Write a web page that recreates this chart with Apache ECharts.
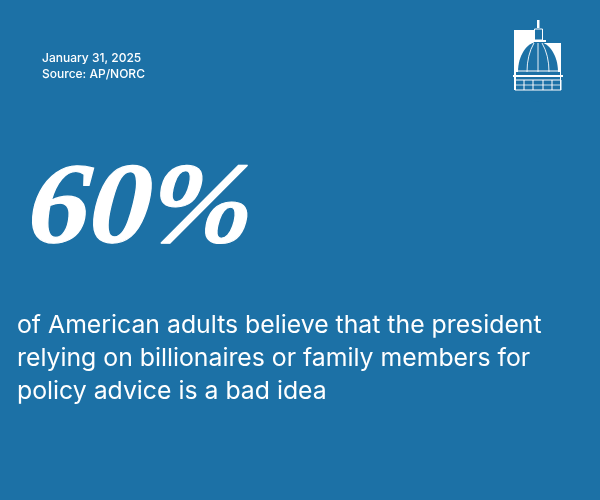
<!DOCTYPE html>
<html>
<head>
    <meta charset="utf-8">
    <style>
        html, body { width: 100%; height: 100%; margin: 0; }
        #chart-panel { width: 600px; height: 500px; }
    </style>
    <script src="https://cdnjs.cloudflare.com/ajax/libs/echarts/6.0.0/echarts.min.js"></script>
</head>
<body>
<div id="chart-panel"></div>
<script type="text/javascript">
  var metaLines = ['January 31, 2025', 'Source: AP/NORC']
  var headline = '60%'
  var bodyLines = [
    'of American adults believe that the president',
    'relying on billionaires or family members for',
    'policy advice is a bad idea'
  ]

  var bg = '#1c71a6'
  var white = '#ffffff'

  function line(x1, y1, x2, y2, w) {
    return { type: 'line', shape: { x1: x1, y1: y1, x2: x2, y2: y2 }, style: { stroke: white, lineWidth: w || 1 } }
  }
  function rib(x1, y1, cx, cy, x2, y2) {
    return { type: 'bezierCurve', shape: { x1: x1, y1: y1, cpx1: cx, cpy1: cy, x2: x2, y2: y2 },
      style: { stroke: white, lineWidth: 0.9, fill: null } }
  }

  // capitol dome logo
  var logo = [
    { type: 'polygon', shape: { points: [[514, 30], [534, 30], [534, 43], [561, 43], [561, 90], [514, 90]] }, style: { fill: white } },
    { type: 'ellipse', shape: { cx: 538, cy: 72, rx: 20, ry: 30 }, style: { fill: bg } },
    { type: 'rect', shape: { x: 516, y: 72, width: 44, height: 18 }, style: { fill: bg } },
    { type: 'rect', shape: { x: 534.5, y: 29, width: 8, height: 11 }, style: { fill: bg, stroke: white, lineWidth: 1 } },
    { type: 'rect', shape: { x: 537, y: 20, width: 2.5, height: 8 }, style: { fill: white } },
    { type: 'rect', shape: { x: 531, y: 40, width: 15, height: 2 }, style: { fill: white } },
    rib(527, 72, 527, 55, 534, 43),
    rib(549, 72, 549, 55, 542, 43),
    line(538, 43, 538, 72, 0.9),
    line(518, 71, 558, 71, 1),
    { type: 'rect', shape: { x: 513, y: 75, width: 50, height: 2 }, style: { fill: white } },
    line(515, 80, 561, 80, 1),
    line(515, 90, 561, 90, 1),
    line(515, 80, 515, 90, 1),
    line(561, 80, 561, 90, 1),
    line(524, 80, 524, 90, 1), line(533, 80, 533, 90, 1),
    line(543, 80, 543, 90, 1), line(552, 80, 552, 90, 1),
    line(515, 85, 561, 85, 0.8)
  ]

  var texts = []
  metaLines.forEach(function (t, i) {
    texts.push({ type: 'text', style: { x: 42, y: 58 + i * 16, text: t, fill: white,
      font: '500 12px Inter', verticalAlign: 'middle' } })
  })
  // big number: squashed a little and skewed to get nearer the original italic
  texts.push({ type: 'text', x: 29, y: 212, scaleX: 1.02, scaleY: 0.96, skewX: -0.08,
    style: { x: 0, y: 0, text: headline, fill: white, stroke: white, lineWidth: 1.2,
      font: 'italic bold 120px "Liberation Serif"', verticalAlign: 'middle' } })
  bodyLines.forEach(function (t, i) {
    texts.push({ type: 'text', style: { x: 17, y: 326 + i * 33, text: t, fill: white,
      font: '400 24.8px Inter', verticalAlign: 'middle' } })
  })

  var myChart = echarts.init(document.getElementById('chart-panel'))
  myChart.setOption({
    animation: false,
    backgroundColor: bg,
    graphic: { elements: logo.concat(texts) }
  })
</script>
</body>
</html>
